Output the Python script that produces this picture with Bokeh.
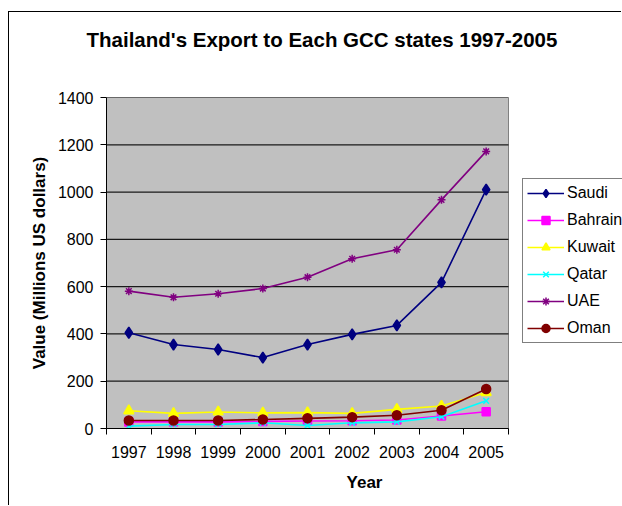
from bokeh.plotting import figure
from bokeh.models import FixedTicker, Legend, LegendItem, Range1d, Title
from bokeh.embed import file_html
from bokeh.resources import INLINE

years = [1997, 1998, 1999, 2000, 2001, 2002, 2003, 2004, 2005]
year_labels = [str(y) for y in years]
saudi = [405, 355, 334, 300, 355, 398, 436, 618, 1010]
bahrain = [28, 28, 28, 30, 32, 33, 36, 53, 71]
kuwait = [75, 64, 70, 66, 67, 64, 81, 95, 152]
qatar = [10, 17, 17, 24, 13, 24, 28, 50, 117]
uae = [581, 555, 570, 592, 640, 718, 756, 967, 1172]
oman = [34, 34, 34, 38, 43, 48, 56, 77, 167]
y_ticks = [0, 200, 400, 600, 800, 1000, 1200, 1400]

series = [
    ("Saudi", saudi, "#000080", "diamond", 11),
    ("Bahrain", bahrain, "#FF00FF", "square", 8),
    ("Kuwait", kuwait, "#FFFF00", "triangle", 10),
    ("Qatar", qatar, "#00FFFF", "x", 8),
    ("UAE", uae, "#800080", "asterisk", 8),
    ("Oman", oman, "#800000", "circle", 9),
]

# layout geometry (pixels)
W, H = 613, 494
LEFT, TOP, BOTTOM = 97, 85, 78
cat_w = 402 / 9.0            # category width in px
frame_w = W - LEFT
x0 = years[0] - 0.5
x1 = years[-1] + 0.5
x_end = x0 + frame_w / cat_w

p = figure(width=W, height=H, output_backend="svg", toolbar_location=None,
           x_range=Range1d(x0, x_end), y_range=Range1d(0, 1400),
           min_border_left=LEFT, min_border_top=TOP, min_border_bottom=BOTTOM,
           min_border_right=0)
p.styles = {"border-top": "1px solid black", "border-left": "1px solid black",
            "margin-top": "11px", "margin-left": "8px"}

p.background_fill_color = "white"
p.border_fill_color = "white"
p.outline_line_color = None
p.xgrid.grid_line_color = None
p.ygrid.grid_line_color = None

# plot area background
p.quad(left=[x0], right=[x1], bottom=[0], top=[1400], fill_color="#C0C0C0",
       line_color="#808080", line_width=1, level="image")
# horizontal gridlines limited to the plot area
p.segment(x0=[x0] * len(y_ticks), x1=[x1] * len(y_ticks), y0=y_ticks, y1=y_ticks,
          line_color="#1a1a1a", line_width=1.2)

# title with spacer below it
p.title.text = "Thailand's Export to Each GCC states 1997-2005"
p.title.text_font = "Liberation Sans"
p.title.text_font_size = "20.5px"
p.title.text_font_style = "bold"
p.title.text_color = "black"
p.title.align = "left"
p.title.offset = -20
p.title.standoff = 10
spacer = Title(text=" ", text_font_size="1px", standoff=39)
p.add_layout(spacer, "above")

xa = p.xaxis[0]
xa.ticker = FixedTicker(ticks=years, minor_ticks=[y - 0.5 for y in years] + [x1])
xa.major_label_overrides = {y: l for y, l in zip(years, year_labels)}
xa.bounds = (x0, x1)
xa.major_tick_line_color = None
xa.minor_tick_line_color = "black"
xa.minor_tick_out = 6
xa.minor_tick_in = 0
xa.axis_line_color = "black"
xa.major_label_standoff = 11
xa.axis_label = "Year"
xa.axis_label_standoff = 12

ya = p.yaxis[0]
ya.ticker = FixedTicker(ticks=y_ticks)
ya.minor_tick_line_color = None
ya.major_tick_out = 6
ya.major_tick_in = 0
ya.major_tick_line_color = "black"
ya.axis_line_color = "black"
ya.major_label_standoff = 7
ya.axis_label = "Value (Millions US dollars)"
ya.axis_label_standoff = 6

for ax in (xa, ya):
    ax.major_label_text_font = "Liberation Sans"
    ax.major_label_text_font_size = "16px"
    ax.major_label_text_color = "black"
    ax.axis_label_text_font = "Liberation Sans"
    ax.axis_label_text_font_size = "17px"
    ax.axis_label_text_font_style = "bold"
    ax.axis_label_text_color = "black"

items = []
for name, vals, color, marker, size in series:
    r1 = p.line(years, vals, line_color=color, line_width=1.6)
    r2 = p.scatter(years, vals, marker=marker, size=size, fill_color=color,
                   line_color=color, line_width=1.5)
    items.append(LegendItem(label=name, renderers=[r1, r2]))

legend = Legend(items=items, location=(416, 85))
legend.border_line_color = "black"
legend.border_line_width = 1
legend.background_fill_color = "white"
legend.background_fill_alpha = 1
legend.label_text_font = "Liberation Sans"
legend.label_text_font_size = "16px"
legend.label_text_color = "black"
legend.glyph_width = 37
legend.glyph_height = 20
legend.label_height = 20
legend.spacing = 7
legend.padding = 4
legend.label_standoff = 3
legend.margin = 0
p.add_layout(legend, "center")

open("out.html", "w").write(file_html(p, INLINE))
